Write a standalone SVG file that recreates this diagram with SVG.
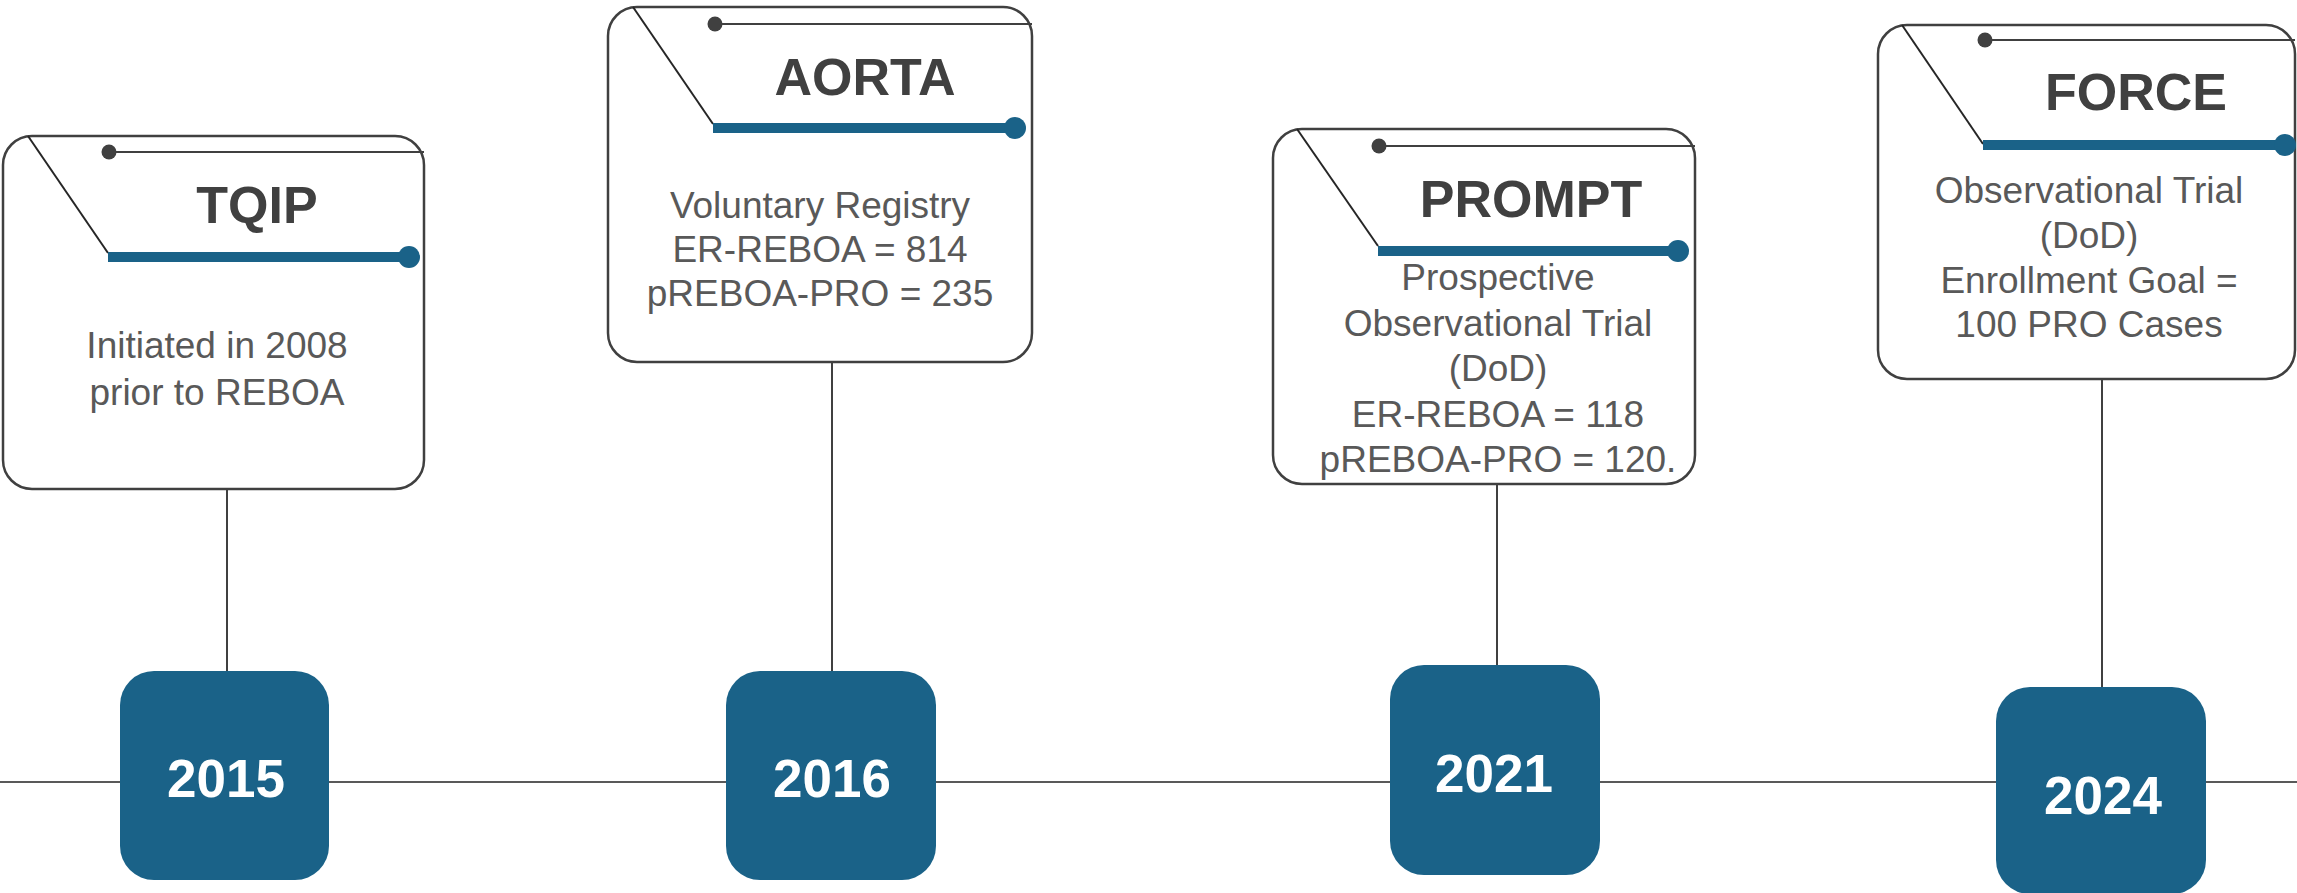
<svg xmlns="http://www.w3.org/2000/svg" width="2297" height="893" viewBox="0 0 2297 893">
  <style>
    .card { fill: #ffffff; stroke: #404040; stroke-width: 2.5; }
    .diag { stroke: #262626; stroke-width: 2; fill: none; }
    .thin { stroke: #404040; stroke-width: 2.2; fill: none; }
    .dot { fill: #404040; }
    .bar { stroke: #1a6288; stroke-width: 10; fill: none; }
    .bar-dot { fill: #1a6288; }
    .title { font-family: "Liberation Sans", Arial, sans-serif; font-weight: bold; font-size: 52px; fill: #404040; text-anchor: middle; }
    .body { font-family: "Liberation Sans", Arial, sans-serif; font-size: 37px; fill: #595959; text-anchor: middle; }
    .year { fill: #1a6288; }
    .year-text { font-family: "Liberation Sans", Arial, sans-serif; font-weight: bold; font-size: 53px; fill: #ffffff; text-anchor: middle; }
    .link { stroke: #404040; stroke-width: 2; fill: none; }
    .axis { stroke: #595959; stroke-width: 2.2; fill: none; }
  </style>

  <!-- timeline axis and drop lines -->
  <g id="connectors">
    <line class="axis" x1="0" y1="782" x2="2297" y2="782"/>
    <line class="link" x1="227" y1="489" x2="227" y2="671"/>
    <line class="link" x1="832" y1="362" x2="832" y2="671"/>
    <line class="link" x1="1497" y1="484" x2="1497" y2="665"/>
    <line class="link" x1="2102" y1="379" x2="2102" y2="687"/>
  </g>

  <!-- TQIP card -->
  <g id="card-tqip" transform="translate(3,136)">
    <rect class="card" x="0" y="0" width="421" height="353" rx="29"/>
    <line class="diag" x1="25" y1="0" x2="105" y2="117"/>
    <line class="thin" x1="106" y1="16" x2="421" y2="16"/>
    <circle class="dot" cx="106" cy="16" r="7.5"/>
    <line class="bar" x1="105" y1="121" x2="406" y2="121"/>
    <circle class="bar-dot" cx="406" cy="121" r="11"/>
    <text class="title" x="254" y="87">TQIP</text>
    <text class="body" x="214" y="222">Initiated in 2008</text>
    <text class="body" x="214" y="269">prior to REBOA</text>
  </g>

  <!-- AORTA card -->
  <g id="card-aorta" transform="translate(608,7)">
    <rect class="card" x="0" y="0" width="424" height="355" rx="29"/>
    <line class="diag" x1="25" y1="0" x2="105" y2="117"/>
    <line class="thin" x1="107" y1="17" x2="424" y2="17"/>
    <circle class="dot" cx="107" cy="17" r="7.5"/>
    <line class="bar" x1="105" y1="121" x2="407" y2="121"/>
    <circle class="bar-dot" cx="407" cy="121" r="11"/>
    <text class="title" x="257" y="88">AORTA</text>
    <text class="body" x="212" y="211">Voluntary Registry</text>
    <text class="body" x="212" y="255">ER-REBOA = 814</text>
    <text class="body" x="212" y="299">pREBOA-PRO = 235</text>
  </g>

  <!-- PROMPT card -->
  <g id="card-prompt" transform="translate(1273,129)">
    <rect class="card" x="0" y="0" width="422" height="355" rx="29"/>
    <line class="diag" x1="24" y1="0" x2="105" y2="117"/>
    <line class="thin" x1="106" y1="17" x2="422" y2="17"/>
    <circle class="dot" cx="106" cy="17" r="7.5"/>
    <line class="bar" x1="105" y1="122" x2="405" y2="122"/>
    <circle class="bar-dot" cx="405" cy="122" r="11"/>
    <text class="title" x="258" y="88">PROMPT</text>
    <text class="body" x="225" y="161">Prospective</text>
    <text class="body" x="225" y="206.5">Observational Trial</text>
    <text class="body" x="225" y="252">(DoD)</text>
    <text class="body" x="225" y="297.5">ER-REBOA = 118</text>
    <text class="body" x="225" y="343">pREBOA-PRO = 120.</text>
  </g>

  <!-- FORCE card -->
  <g id="card-force" transform="translate(1878,25)">
    <rect class="card" x="0" y="0" width="417" height="354" rx="29"/>
    <line class="diag" x1="24" y1="0" x2="105" y2="119"/>
    <line class="thin" x1="107" y1="15" x2="417" y2="15"/>
    <circle class="dot" cx="107" cy="15" r="7.5"/>
    <line class="bar" x1="105" y1="120" x2="407" y2="120"/>
    <circle class="bar-dot" cx="407" cy="120" r="11"/>
    <text class="title" x="258" y="85">FORCE</text>
    <text class="body" x="211" y="178">Observational Trial</text>
    <text class="body" x="211" y="223">(DoD)</text>
    <text class="body" x="211" y="268">Enrollment Goal =</text>
    <text class="body" x="211" y="312">100 PRO Cases</text>
  </g>

  <!-- year markers -->
  <g id="year-2015">
    <rect class="year" x="120" y="671" width="209" height="209" rx="34"/>
    <text class="year-text" x="226" y="797">2015</text>
  </g>
  <g id="year-2016">
    <rect class="year" x="726" y="671" width="210" height="209" rx="34"/>
    <text class="year-text" x="832" y="797">2016</text>
  </g>
  <g id="year-2021">
    <rect class="year" x="1390" y="665" width="210" height="210" rx="34"/>
    <text class="year-text" x="1494" y="792">2021</text>
  </g>
  <g id="year-2024">
    <rect class="year" x="1996" y="687" width="210" height="207" rx="34"/>
    <text class="year-text" x="2103" y="814">2024</text>
  </g>
</svg>
